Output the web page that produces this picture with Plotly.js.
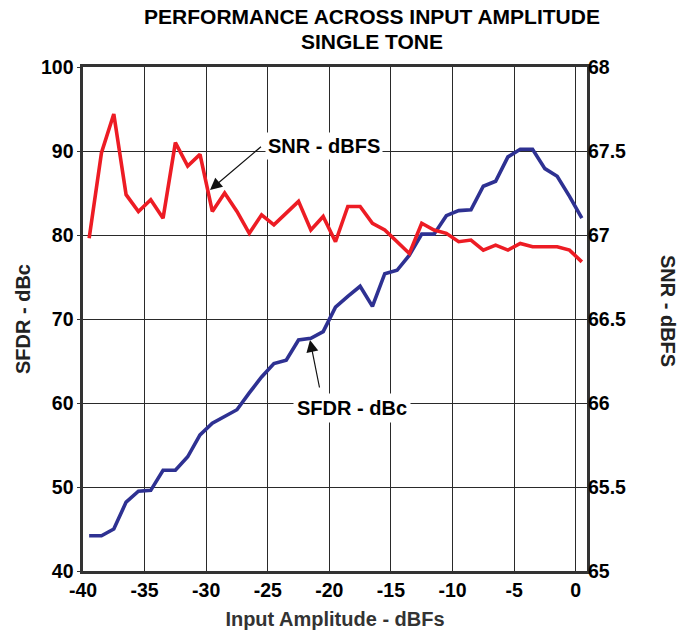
<!DOCTYPE html>
<html>
<head>
<meta charset="utf-8">
<script src="https://cdn.plot.ly/plotly-3.0.1.min.js"></script>
<style>html,body{margin:0;padding:0;background:#fff;}#chart{width:692px;height:633px;}</style>
</head>
<body>
<div id="chart"></div>
<script>
// Input amplitude (dBFS) sample points
const inputAmplitude = [-39.5,-38.5,-37.5,-36.5,-35.5,-34.5,-33.5,-32.5,-31.5,-30.5,
  -29.5,-28.5,-27.5,-26.5,-25.5,-24.5,-23.5,-22.5,-21.5,-20.5,
  -19.5,-18.5,-17.5,-16.5,-15.5,-14.5,-13.5,-12.5,-11.5,-10.5,
  -9.5,-8.5,-7.5,-6.5,-5.5,-4.5,-3.5,-2.5,-1.5,-0.5,0.5];
// SFDR (dBc), left axis
const sfdr = [44.2,44.2,45.0,48.2,49.5,49.6,52.0,52.0,53.6,56.2,
  57.6,58.4,59.2,61.2,63.1,64.7,65.1,67.5,67.7,68.5,
  71.4,72.7,73.9,71.5,75.4,75.8,77.6,80.1,80.1,82.3,
  82.9,83.0,85.8,86.4,89.3,90.2,90.2,87.9,87.0,84.6,82.0];
// SNR (dBFS), right axis
const snr = [66.98,67.49,67.72,67.24,67.14,67.21,67.10,67.55,67.41,67.48,
  67.14,67.25,67.14,67.01,67.12,67.06,67.13,67.20,67.03,67.11,
  66.96,67.17,67.17,67.07,67.03,66.96,66.89,67.07,67.03,67.01,
  66.96,66.97,66.91,66.94,66.91,66.95,66.93,66.93,66.93,66.91,66.84];
const xTicks = [-40,-35,-30,-25,-20,-15,-10,-5,0];
const xTickText = ['-40','-35','-30','-25','-20','-15','-10','-5','0'];
const leftTicks = [40,50,60,70,80,90,100];
const rightTicks = [65,65.5,66,66.5,67,67.5,68];
const rightTickText = ['65','65.5','66','66.5','67','67.5','68'];
const titleLine1 = 'PERFORMANCE ACROSS INPUT AMPLITUDE';
const titleLine2 = 'SINGLE TONE';

const FONT = 'Liberation Sans, Arial, Helvetica, sans-serif';
const gridC = '#2a2a2a';
const frameC = '#333333';

const traces = [
  {x: inputAmplitude, y: snr, yaxis: 'y2', type: 'scatter', mode: 'lines', name: 'SNR - dBFS',
   line: {color: '#ed1c24', width: 3.6}},
  {x: inputAmplitude, y: sfdr, yaxis: 'y', type: 'scatter', mode: 'lines', name: 'SFDR - dBc',
   line: {color: '#2e3192', width: 3.6}}
];

const layout = {
  width: 692, height: 633,
  margin: {l: 83, r: 105, t: 67, b: 62},
  paper_bgcolor: '#fff', plot_bgcolor: '#fff',
  showlegend: false,
  font: {family: FONT, color: '#000'},
  title: {
    text: titleLine1,
    font: {family: FONT, size: 21, weight: 'bold', color: '#000'},
    x: 0.5376, xref: 'container', xanchor: 'center',
    y: 1 - 17/633, yref: 'container', yanchor: 'middle'
  },
  xaxis: {
    range: [-40, 0.92], tickvals: xTicks, ticktext: xTickText,
    showgrid: true, gridcolor: gridC, gridwidth: 1,
    showline: true, mirror: true, linecolor: frameC, linewidth: 2.6,
    zeroline: false, ticks: '', automargin: false,
    tickfont: {family: FONT, size: 19.5, weight: 'bold', color: '#000'},
    title: {text: 'Input Amplitude - dBFs', standoff: 12,
      font: {family: FONT, size: 20, weight: 'bold', color: '#333'}}
  },
  yaxis: {
    range: [40, 100], tickvals: leftTicks,
    showgrid: true, gridcolor: gridC, gridwidth: 1,
    showline: true, mirror: true, linecolor: frameC, linewidth: 2.6,
    zeroline: false, ticks: 'outside', ticklen: 3, tickcolor: frameC, automargin: false,
    tickfont: {family: FONT, size: 19.5, weight: 'bold', color: '#000'}
  },
  yaxis2: {
    overlaying: 'y', side: 'right',
    range: [65, 68], tickvals: rightTicks, ticktext: rightTickText,
    showgrid: false, showline: false, zeroline: false, ticks: '', automargin: false,
    tickfont: {family: FONT, size: 19.5, weight: 'bold', color: '#000'}
  },
  annotations: [
    {text: titleLine2, xref: 'paper', yref: 'paper', x: (372 - 83) / 504, y: (571 - 42) / 504,
     xanchor: 'center', yanchor: 'middle', showarrow: false,
     font: {family: FONT, size: 21, weight: 'bold', color: '#000'}},
    {text: 'SFDR - dBc', xref: 'paper', yref: 'paper', x: -0.119, y: 0.5,
     xanchor: 'center', yanchor: 'middle', textangle: -90, showarrow: false,
     font: {family: FONT, size: 20, weight: 'bold', color: '#222'}},
    {text: 'SNR - dBFS', xref: 'paper', yref: 'paper', x: 1.1607, y: 0.516,
     xanchor: 'center', yanchor: 'middle', textangle: 90, showarrow: false,
     font: {family: FONT, size: 20, weight: 'bold', color: '#222'}},
    // SNR label
    {text: 'SNR - dBFS', xref: 'x', yref: 'y', x: -20.44, y: 90.6,
     xanchor: 'center', yanchor: 'middle', showarrow: false, bgcolor: '#fff', borderpad: 2,
     font: {family: FONT, size: 20, weight: 'bold', color: '#000'}},
    {text: ' ', xref: 'x', yref: 'y', x: -29.69, y: 85.36, ax: 53, ay: -45,
     showarrow: true, arrowhead: 2, arrowsize: 2, arrowwidth: 1.2, arrowcolor: '#111',
     font: {size: 2}},
    // SFDR label
    {text: 'SFDR - dBc', xref: 'x', yref: 'y', x: -18.13, y: 59.35,
     xanchor: 'center', yanchor: 'middle', showarrow: false, bgcolor: '#fff', borderpad: 3,
     font: {family: FONT, size: 20, weight: 'bold', color: '#000'}},
    {text: ' ', xref: 'x', yref: 'y', x: -21.57, y: 67.5, ax: 10, ay: 50,
     showarrow: true, arrowhead: 2, arrowsize: 2, arrowwidth: 1.2, arrowcolor: '#111',
     font: {size: 2}}
  ]
};

Plotly.newPlot('chart', traces, layout, {displayModeBar: false, staticPlot: true});
</script>
</body>
</html>
